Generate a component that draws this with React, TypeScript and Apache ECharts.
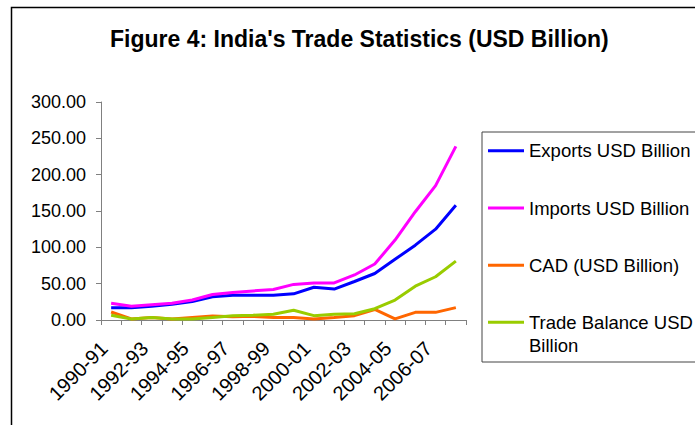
import React, { useEffect, useRef } from "react";
import * as echarts from "echarts";

const categories = [
  "1990-91", "1991-92", "1992-93", "1993-94", "1994-95", "1995-96",
  "1996-97", "1997-98", "1998-99", "1999-00", "2000-01", "2001-02",
  "2002-03", "2003-04", "2004-05", "2005-06", "2006-07", "2007-08",
];
const exportsUSD = [17, 17, 19, 21.5, 25.5, 32, 34, 34, 34, 36, 45, 42.5, 53, 64, 83.5, 103, 125, 158];
const importsUSD = [23, 19, 21, 23, 27.5, 35, 38, 40, 42, 49, 51, 51, 62, 77, 110, 149, 185, 239];
const cadUSD = [11, 1.5, 3.5, 1.5, 3.5, 5.5, 4.5, 5, 3.5, 3.5, 1.5, 3.5, 6, 14.5, 1.5, 10.5, 10.5, 17];
const tradeBalanceUSD = [6.5, 1.5, 3.5, 1.5, 1.5, 3.5, 6, 6.5, 8, 13.5, 6, 8, 8.5, 15.5, 27.5, 46.5, 59.5, 81];
const seriesNames = [
  "Exports USD Billion",
  "Imports USD Billion",
  "CAD (USD Billion)",
  "Trade Balance USD Billion",
];
const titleText = "Figure 4: India's Trade Statistics (USD Billion)";

const FONT = '"Liberation Sans", Arial, sans-serif';

export default function App() {
  const ref = useRef<HTMLDivElement>(null);
  useEffect(() => {
    if (!ref.current) return;
    const chart = echarts.init(ref.current, undefined, { renderer: "svg" });
    const colors = ["#0000FF", "#FF00FF", "#FF6600", "#99CC00"];
    const values = [exportsUSD, importsUSD, cadUSD, tradeBalanceUSD];
    const legendText = { fontFamily: FONT, fontSize: 18.5, color: "#000", lineHeight: 23 };
    chart.setOption({
      animation: false,
      backgroundColor: "#fff",
      title: {
        text: titleText,
        left: 110,
        top: 27,
        padding: 0,
        textStyle: { fontFamily: FONT, fontSize: 23, fontWeight: "bold", color: "#000" },
      },
      graphic: [
        {
          type: "rect",
          z: -10,
          shape: { x: 11.5, y: 7.5, width: 800, height: 600 },
          style: { fill: "none", stroke: "#000", lineWidth: 1.5 },
        },
        {
          type: "rect",
          z: -10,
          shape: { x: 482, y: 132, width: 300, height: 230 },
          style: { fill: "none", stroke: "#444", lineWidth: 1 },
        },
      ],
      legend: [
        {
          orient: "vertical",
          left: 488,
          top: 139.2,
          padding: 0,
          itemGap: 34.3,
          itemWidth: 36,
          itemHeight: 3,
          icon: "rect",
          data: seriesNames.slice(0, 3),
          textStyle: legendText,
        },
        {
          orient: "vertical",
          left: 488,
          top: 322.3 - 34.5,
          padding: 0,
          itemWidth: 36,
          itemHeight: 3,
          icon: "rect",
          data: [seriesNames[3]],
          formatter: (n: string) => "\n" + n.replace("USD Billion", "USD\nBillion"),
          textStyle: legendText,
        },
      ],
      grid: { left: 101, right: 229, top: 102, bottom: 105, containLabel: false },
      xAxis: {
        type: "category",
        data: categories,
        boundaryGap: true,
        axisLine: { lineStyle: { color: "#808080", width: 1 } },
        axisTick: { show: true, length: 5, interval: 0, lineStyle: { color: "#808080" } },
        axisLabel: {
          interval: 1,
          rotate: 45,
          margin: 18,
          padding: [0, 10, 0, 0],
          fontFamily: FONT,
          fontSize: 20,
          color: "#000",
        },
        splitLine: { show: false },
      },
      yAxis: {
        type: "value",
        min: 0,
        max: 300,
        interval: 50,
        axisLine: { show: true, lineStyle: { color: "#808080", width: 1 } },
        axisTick: { show: true, length: 5, lineStyle: { color: "#808080" } },
        axisLabel: {
          margin: 15,
          fontFamily: FONT,
          fontSize: 18,
          color: "#000",
          formatter: (v: number) => v.toFixed(2),
        },
        splitLine: { show: false },
      },
      series: seriesNames.map((name, i) => ({
        name,
        type: "line",
        data: values[i],
        showSymbol: false,
        symbol: "none",
        color: colors[i],
        lineStyle: { color: colors[i], width: 3 },
      })),
    });
    return () => chart.dispose();
  }, []);
  return (
    <div
      ref={ref}
      style={{ position: "fixed", left: 0, top: 0, width: 695, height: 425 }}
    />
  );
}
